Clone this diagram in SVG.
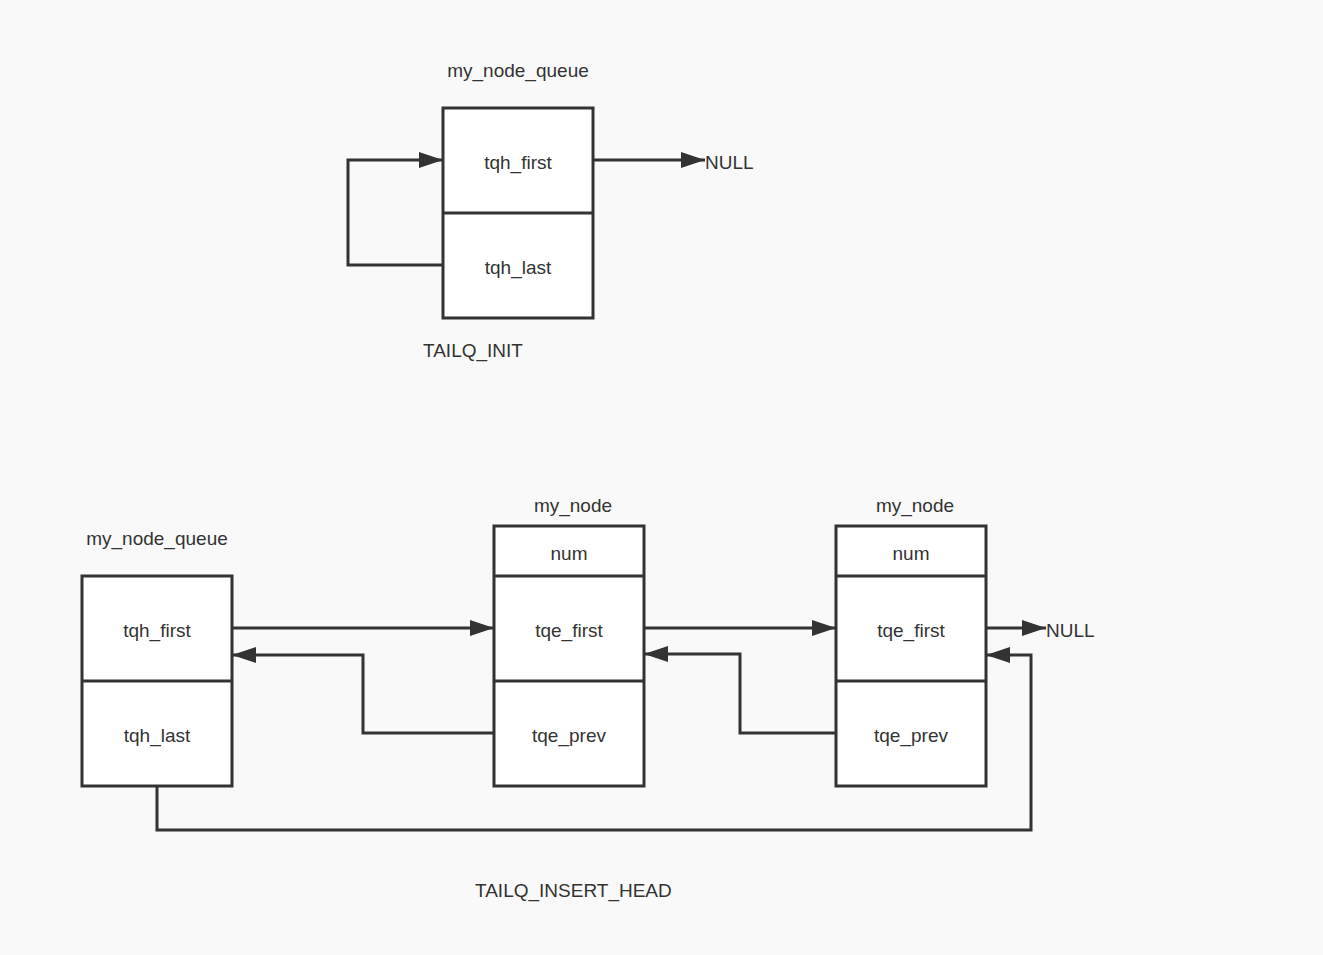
<svg xmlns="http://www.w3.org/2000/svg" width="1323" height="955" viewBox="0 0 1323 955">
<defs>
<marker id="ah" markerWidth="26" markerHeight="18" refX="24" refY="8" orient="auto" markerUnits="userSpaceOnUse">
<path d="M0,0 L24,8 L0,16 Z" fill="#333"/>
</marker>
<style>
.box{fill:#fff;stroke:#333;stroke-width:3}
.ln{fill:none;stroke:#333;stroke-width:3}
.t{font-family:"Liberation Sans",Arial,sans-serif;font-size:19px;fill:#333}
.c{text-anchor:middle}
</style>
</defs>
<rect width="1323" height="955" fill="#f9f9f9"/>

<g id="top-queue">
<rect class="box" x="443" y="108" width="150" height="210"/>
<line class="ln" x1="443" y1="213" x2="593" y2="213"/>
<text class="t c" x="518" y="77">my_node_queue</text>
<text class="t c" x="518" y="169">tqh_first</text>
<text class="t c" x="518" y="274">tqh_last</text>
</g>
<g id="top-null"><text class="t" x="705" y="169">NULL</text></g>
<g id="label-init"><text class="t" x="423" y="357">TAILQ_INIT</text></g>

<g id="queue">
<rect class="box" x="82" y="576" width="150" height="210"/>
<line class="ln" x1="82" y1="681" x2="232" y2="681"/>
<text class="t c" x="157" y="545">my_node_queue</text>
<text class="t c" x="157" y="637">tqh_first</text>
<text class="t c" x="157" y="742">tqh_last</text>
</g>

<g id="node1">
<rect class="box" x="494" y="526" width="150" height="260"/>
<line class="ln" x1="494" y1="576" x2="644" y2="576"/>
<line class="ln" x1="494" y1="681" x2="644" y2="681"/>
<text class="t c" x="573" y="512">my_node</text>
<text class="t c" x="569" y="560">num</text>
<text class="t c" x="569" y="637">tqe_first</text>
<text class="t c" x="569" y="742">tqe_prev</text>
</g>

<g id="node2">
<rect class="box" x="836" y="526" width="150" height="260"/>
<line class="ln" x1="836" y1="576" x2="986" y2="576"/>
<line class="ln" x1="836" y1="681" x2="986" y2="681"/>
<text class="t c" x="915" y="512">my_node</text>
<text class="t c" x="911" y="560">num</text>
<text class="t c" x="911" y="637">tqe_first</text>
<text class="t c" x="911" y="742">tqe_prev</text>
</g>
<g id="bottom-null"><text class="t" x="1046" y="637">NULL</text></g>
<g id="label-insert"><text class="t" x="475" y="897">TAILQ_INSERT_HEAD</text></g>

<g id="connectors">
<polyline class="ln" points="443,265 348,265 348,160 443,160" marker-end="url(#ah)"/>
<line class="ln" x1="593" y1="160" x2="705" y2="160" marker-end="url(#ah)"/>
<line class="ln" x1="232" y1="628" x2="494" y2="628" marker-end="url(#ah)"/>
<polyline class="ln" points="494,733 363,733 363,655 232,655" marker-end="url(#ah)"/>
<line class="ln" x1="644" y1="628" x2="836" y2="628" marker-end="url(#ah)"/>
<polyline class="ln" points="836,733 740,733 740,654 644,654" marker-end="url(#ah)"/>
<line class="ln" x1="986" y1="628" x2="1046" y2="628" marker-end="url(#ah)"/>
<polyline class="ln" points="157,786 157,830 1031,830 1031,655 986,655" marker-end="url(#ah)"/>
</g>
</svg>
